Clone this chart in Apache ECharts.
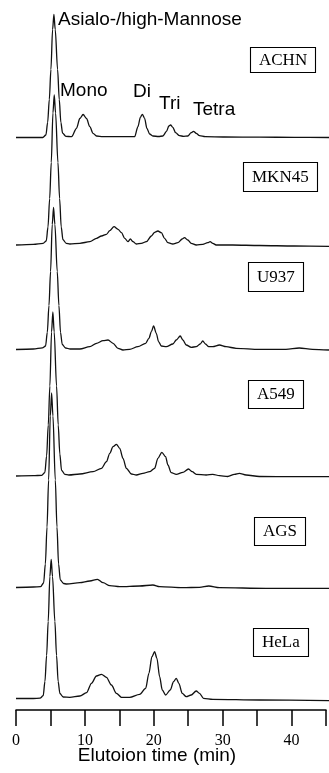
<!DOCTYPE html>
<html>
<head>
<meta charset="utf-8">
<title>Oligosaccharide elution profiles</title>
<script src="https://cdn.jsdelivr.net/npm/echarts@6/dist/echarts.min.js"></script>
<style>
  html, body { margin: 0; padding: 0; background: #ffffff; }
  #chart { width: 329px; height: 773px; }
</style>
</head>
<body>
<div id="chart"></div>
<script>
// Cell lines, top to bottom
const cellLines = ['ACHN', 'MKN45', 'U937', 'A549', 'AGS', 'HeLa'];

// Elution profiles: [time (min), detector response (a.u.)]
const achn = [[0,0],[2.5,0],[3.85,0],[4.30,2.5],[4.55,15],[4.79,38],[5.02,68],[5.26,108],[5.45,123],[5.64,108],[5.98,68],[6.22,38],[6.45,15],[6.70,4.3],[7.17,1.2],[7.99,0.8],[8.70,9.2],[9.18,19],[9.65,23],[10.14,19],[10.61,10.8],[11.08,4.2],[11.57,1.5],[12.5,0.8],[14,0.8],[15.5,0.8],[17.06,0.8],[17.53,10.8],[17.88,20.2],[18.16,23.2],[18.49,19.2],[18.82,9.2],[19.21,3.5],[19.68,1.5],[20.5,1],[21.12,1.5],[21.61,5.8],[21.98,11.5],[22.22,12.5],[22.55,10.2],[22.94,4.8],[23.51,1.8],[24.1,1.2],[24.7,1.5],[25.19,4.8],[25.52,6.2],[25.91,4.2],[26.38,1.8],[27.2,0.8],[30,0.5],[35,0.3],[40,0.2],[45,0]];
const mkn45 = [[0,0],[2.5,0.7],[3.9,1.7],[4.35,4],[4.6,18],[4.84,46.5],[5.07,82.5],[5.31,132],[5.5,150],[5.69,132],[6.03,82.5],[6.27,46.5],[6.5,18],[6.75,5.3],[7.22,1.7],[7.74,1],[9.18,1.7],[10.61,3.3],[11.57,6.7],[12.29,9],[13.0,10.7],[13.48,14.3],[14.09,18.3],[14.67,15.7],[15.16,12.3],[15.63,6.7],[16.1,3.3],[16.44,6],[16.82,3.3],[17.3,1],[18.02,1.7],[18.74,3.3],[19.46,9],[19.93,12.7],[20.4,14],[20.89,12.3],[21.36,6.7],[21.84,2.3],[22.55,1],[23.27,2.3],[23.9,6],[24.23,7.3],[24.7,5],[25.19,1.7],[25.91,0],[26.85,0.7],[27.57,2.3],[27.91,3.3],[28.29,1.7],[28.77,0],[31.15,0],[35,-0.5],[40,-1],[45,-1.3]];
const u937 = [[0,0],[2.5,0.5],[3.8,1.7],[4.25,3.5],[4.5,17],[4.74,44],[4.97,78],[5.21,125],[5.4,142],[5.59,125],[5.93,78],[6.17,44],[6.4,17],[6.65,5],[7.12,1.5],[7.8,0.5],[9.18,0.5],[10.61,2.8],[11.57,6.2],[12.52,8.8],[13.23,9.5],[13.95,6.2],[14.67,1.2],[15.38,-0.5],[16.34,0.2],[17.53,2.8],[18.64,6.2],[19.11,11.2],[19.46,17.8],[19.78,23.5],[20.17,16.2],[20.5,7.8],[20.89,3.5],[21.61,2.8],[22.55,5.5],[23.04,9.5],[23.61,13.5],[23.99,9.5],[24.47,4.5],[25.19,2.2],[25.91,2.8],[26.48,5.5],[26.85,8.5],[27.24,5.5],[27.71,2.8],[28.29,2.8],[29.25,4.5],[30.21,2.8],[31.64,1.2],[34.98,0.2],[38.81,0.2],[40.72,1.5],[42.62,0.2],[45,-0.5]];
const a549 = [[0,0],[2.5,0.3],[3.7,0.7],[4.15,3.5],[4.4,20],[4.64,51],[4.87,90],[5.11,144],[5.3,164],[5.49,144],[5.83,90],[6.07,51],[6.3,22],[6.55,5.7],[7.02,1.7],[7.6,1],[9.18,2],[11.08,4.3],[12.29,7.7],[13.0,14.3],[13.48,22.7],[13.95,29.3],[14.44,31.7],[14.91,27.7],[15.38,17.7],[15.87,7.7],[16.59,2],[17.3,1],[18.25,2.7],[19.21,4.3],[19.93,7.7],[20.4,17.7],[20.97,23.7],[21.51,19.3],[21.84,11],[22.32,3.3],[23.04,1.7],[23.99,3.7],[24.8,7],[25.33,4.3],[25.91,1.7],[27.34,1],[28.29,1.7],[29.25,0.3],[30.44,-0.5],[31.4,1.7],[32.11,2.7],[33.08,1],[34.98,-0.5],[40,-0.7],[45,-0.7]];
const ags = [[0,-0.5],[2.5,0],[3.52,0.3],[3.97,4],[4.22,23],[4.46,60],[4.69,107],[4.93,171],[5.12,194],[5.31,171],[5.65,107],[5.89,60],[6.12,23],[6.37,7],[6.84,3.5],[7.27,3],[9.18,4.3],[10.61,6],[11.71,7.7],[12.52,4.3],[13.48,1.3],[14.91,0.3],[17.78,1],[19.68,2],[20.65,0.3],[23.99,-0.7],[26.38,-0.3],[27.71,1],[29.25,-0.7],[35.94,-1.3],[45,-1.3]];
const hela = [[0,0],[2.5,0],[3.46,0.3],[3.91,2.8],[4.16,17],[4.4,43],[4.63,77],[4.87,122],[5.06,139],[5.25,122],[5.59,77],[5.83,43],[6.06,17],[6.31,5],[6.78,1.5],[7.74,1.2],[9.18,2.5],[10.14,5.8],[10.85,15.2],[11.57,22.5],[12.29,24.2],[13.0,21.2],[13.72,13.5],[14.44,5.2],[15.16,1.2],[16.34,1.2],[17.78,4.2],[18.64,10.2],[19.11,25.2],[19.54,41.8],[19.93,46.8],[20.26,40.2],[20.65,21.8],[21.03,8.5],[21.51,3.5],[22.18,8.5],[22.65,16.8],[23.04,20.2],[23.41,15.2],[23.9,5.2],[24.47,1.8],[25.19,3.5],[25.91,7.5],[26.38,5.2],[26.95,0.2],[28.29,-0.8],[34.98,-1.5],[45,-2.2]];

const profiles = [achn, mkn45, u937, a549, ags, hela];

// Time axis
const timeMin = 0;
const timeMax = 45;
const timeTickStep = 5;
const timeLabelValues = [0, 10, 20, 30, 40];
const axisTitle = 'Elutoion time (min)';

// Peak group annotations
const peakNames = ['Asialo-/high-Mannose', 'Mono', 'Di', 'Tri', 'Tetra'];

// ---- layout ----
const baselineY = [137.5, 245, 349.5, 476, 587, 698.5];   // zero line of each trace (px)
const traceScale = 100;                                    // a.u. per 100 px
const boxPos = [[250, 47, [5, 9, 4, 9]], [243, 162, [7, 9, 6, 9]], [248, 262, [7, 9, 6, 9]],
                [248, 380, [6, 9, 6, 9]], [254, 517, [6, 9, 6, 9]], [253, 628, [6, 9, 6, 9]]];
const peakNamePos = [[58, 20], [60, 91], [133, 92], [159, 104], [193, 110]];

const chart = echarts.init(document.getElementById('chart'), null, { renderer: 'canvas' });

const grids = [], xAxes = [], yAxes = [], series = [];
profiles.forEach((data, i) => {
  grids.push({ left: 16, right: -1, top: baselineY[i] - 100, height: 100 });
  xAxes.push({ gridIndex: i, type: 'value', min: timeMin, max: timeMax, show: false });
  yAxes.push({ gridIndex: i, type: 'value', min: 0, max: traceScale, show: false });
  series.push({
    name: cellLines[i],
    type: 'line',
    xAxisIndex: i,
    yAxisIndex: i,
    data: data,
    symbol: 'none',
    clip: false,
    smooth: 0.3,
    smoothMonotone: 'x',
    lineStyle: { color: '#111', width: 1.3 },
    silent: true
  });
});

// grid that carries the visible time axis
const axisGrid = profiles.length;
grids.push({ left: 16, right: -1, top: 660, height: 50 });
xAxes.push({
  gridIndex: axisGrid,
  type: 'value',
  min: timeMin,
  max: timeMax,
  interval: timeTickStep,
  axisLine: { show: true, onZero: false, lineStyle: { color: '#000', width: 1.5 } },
  axisTick: { show: true, inside: false, length: 16, lineStyle: { color: '#000', width: 1.5 } },
  axisLabel: {
    show: true,
    margin: 23,
    color: '#000',
    fontFamily: '"Liberation Serif", "Times New Roman", serif',
    fontSize: 16,
    formatter: v => (timeLabelValues.indexOf(v) >= 0 ? String(v) : '')
  },
  splitLine: { show: false }
});
yAxes.push({ gridIndex: axisGrid, type: 'value', min: 0, max: 1, show: false });

const titles = cellLines.map((name, i) => ({
  text: name,
  left: boxPos[i][0],
  top: boxPos[i][1],
  padding: boxPos[i][2],
  borderColor: '#000',
  borderWidth: 1.1,
  backgroundColor: '#fff',
  textStyle: {
    fontFamily: '"Liberation Serif", "Times New Roman", serif',
    fontSize: 17,
    fontWeight: 'normal',
    color: '#000'
  }
}));

const sansFont = '19px "Liberation Sans", Arial, sans-serif';
const graphics = peakNames.map((t, i) => ({
  type: 'text',
  x: peakNamePos[i][0],
  y: peakNamePos[i][1],
  silent: true,
  style: { text: t, font: sansFont, fill: '#000', align: 'left', verticalAlign: 'middle' }
}));
graphics.push({
  type: 'text',
  x: 157,
  y: 756,
  silent: true,
  style: { text: axisTitle, font: sansFont, fill: '#000', align: 'center', verticalAlign: 'middle' }
});

chart.setOption({
  backgroundColor: '#ffffff',
  animation: false,
  title: titles,
  grid: grids,
  xAxis: xAxes,
  yAxis: yAxes,
  series: series,
  graphic: graphics
});
</script>
</body>
</html>
